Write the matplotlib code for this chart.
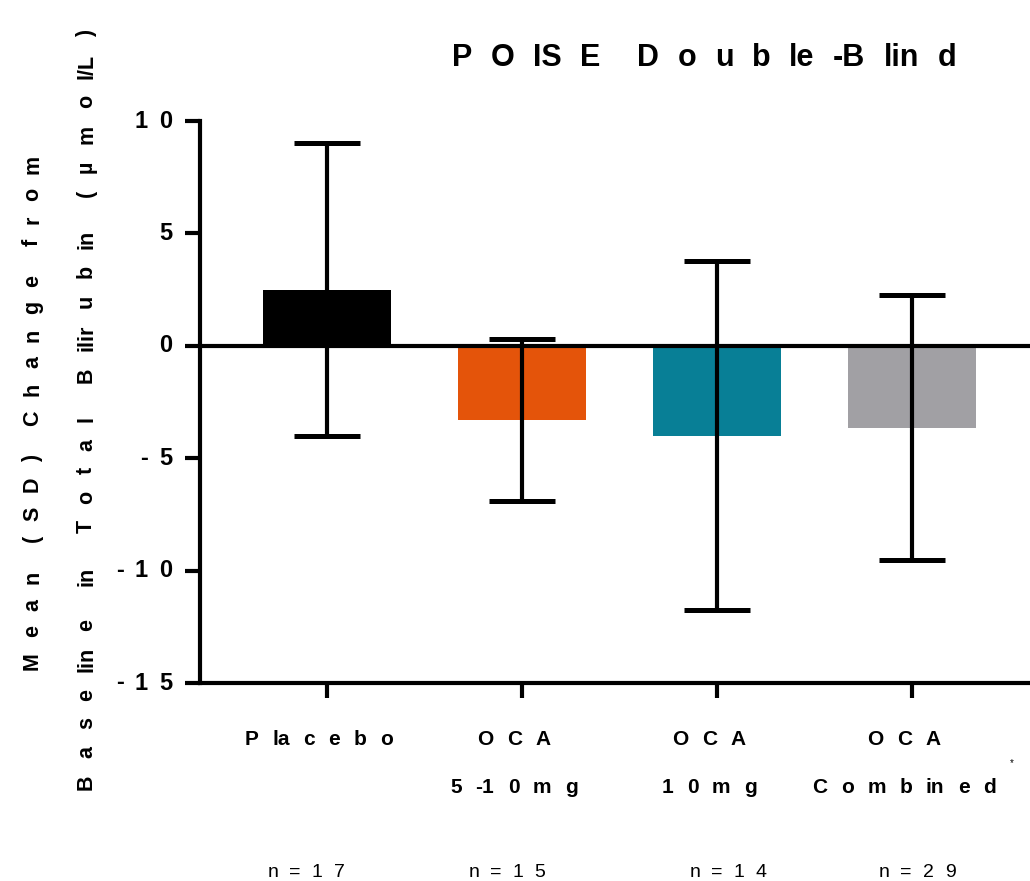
import matplotlib.pyplot as plt
import numpy as np
from matplotlib.font_manager import FontProperties
from matplotlib.transforms import offset_copy, blended_transform_factory

# ---- data ----
groups = ['Placebo', 'OCA 5-10mg', 'OCA 10mg', 'OCA Combined']
label_top = ['P la c e b o', 'O C A', 'O C A', 'O C A']
label_bottom = ['', '5 -1 0 m g', '1 0 m g', 'C o m b in e d']
n_labels = ['n = 1 7', 'n = 1 5', 'n = 1 4', 'n = 2 9']
means = [2.5, -3.3, -4.0, -3.65]
sds = [6.5, 3.6, 7.75, 5.9]
colors = ['#000000', '#E4540A', '#087F96', '#A1A0A4']
yticks = [-15, -10, -5, 0, 5, 10]
ytick_labels = ['- 1 5', '- 1 0', '- 5', '0', '5', '1 0']

W, H, DPI = 1030, 881, 100
FONT = 'Liberation Sans'
plt.rcParams['font.family'] = [FONT, 'DejaVu Sans']

fig = plt.figure(figsize=(W / DPI, H / DPI), dpi=DPI, facecolor='white')
renderer = fig.canvas.get_renderer()
ax = fig.add_axes([200 / W, 1 - 683 / H, 830 / W, 562 / H])


def spaced_text(x, y, s, size, weight='bold', gap=10, span=None, ha='center',
                rot=0, transform=None, dx=0, dy=0, va='baseline'):
    # draws letter-spaced text: tokens separated by single spaces, gap in pixels
    prop = FontProperties(family=FONT, size=size, weight=weight)
    tokens = s.split(' ')
    widths = [renderer.get_text_width_height_descent(t, prop, ismath=False)[0]
              if t else 0 for t in tokens]
    if span is not None and len(tokens) > 1:
        gap = (span - sum(widths)) / (len(tokens) - 1)
    total = sum(widths) + gap * (len(tokens) - 1)
    pos = {'center': -total / 2, 'left': 0, 'right': -total}[ha]
    tr = transform if transform is not None else fig.transFigure
    for t, w in zip(tokens, widths):
        if t:
            ox, oy = (pos, 0) if rot == 0 else (0, pos)
            fig.text(x, y, t, transform=offset_copy(tr, fig=fig, x=ox + dx, y=oy + dy, units='dots'),
                     ha='left', va=va, rotation=rot, rotation_mode='anchor',
                     fontproperties=prop)
        pos += w + gap


x = np.arange(len(groups))
ax.bar(x, means, width=0.66, color=colors, zorder=2)
ax.errorbar(x, means, yerr=sds, fmt='none', ecolor='black', elinewidth=3,
            capsize=23.5, capthick=3.6, zorder=3)
ax.axhline(0, color='black', linewidth=3, zorder=4)

ax.set_xlim(-0.651, 3.605)
ax.set_ylim(-15, 10)

for s in ['top', 'right']:
    ax.spines[s].set_visible(False)
for s in ['left', 'bottom']:
    ax.spines[s].set_linewidth(3)

ax.set_yticks(yticks)
ax.set_yticklabels([])
ax.set_xticks(x)
ax.set_xticklabels([])
ax.tick_params(axis='both', length=11, width=3, direction='out')

# y tick labels, letter-spaced
ytr = ax.get_yaxis_transform()
for yv, lab in zip(yticks, ytick_labels):
    spaced_text(0, yv, lab, 17, gap=11, ha='right', transform=ytr, dx=-28, va='center')

# category labels and n labels below the axis
btr = blended_transform_factory(ax.transData, fig.transFigure)
n_shift = [-21, -15, 11, 5]
for xi, t1, t2, nl, ns in zip(x, label_top, label_bottom, n_labels, n_shift):
    spaced_text(xi, 1 - 745 / H, t1, 15, gap=13.5, transform=btr, dx=-8)
    spaced_text(xi, 1 - 793 / H, t2, 15, gap=13.5, transform=btr, dx=-8)
    spaced_text(xi, 1 - 877 / H, nl, 14, weight='normal', gap=11, transform=btr, dx=ns)
fig.text(1012 / W, 1 - 763 / H, '*', ha='center', va='center', fontsize=7)

# title
spaced_text(704 / W, 1 - 66 / H, 'P O IS E  D o u b le -B lin d', 22, span=505)

# y label (two rotated lines)
spaced_text(38 / W, 1 - 412 / H, 'M e a n  ( S D )  C h a n g e  f r o m',
            15.5, span=515, rot=90)
spaced_text(92 / W, 1 - 410 / H,
            'B a s e lin e  in  T o t a l  B ilir u b in  ( µ m o l/L )',
            15.5, span=760, rot=90)

fig.savefig('out.png', dpi=DPI, facecolor='white')
